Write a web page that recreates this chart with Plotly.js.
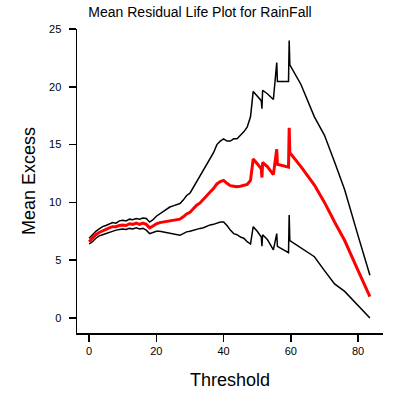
<!DOCTYPE html>
<html>
<head>
<meta charset="utf-8">
<script src="https://cdn.plot.ly/plotly-3.0.1.min.js"></script>
<style>html,body{margin:0;padding:0;background:#fff;}#chart{width:400px;height:399px;}</style>
</head>
<body>
<div id="chart"></div>
<script>
// Thresholds
var threshold = [0,1,2,3,4,5,6,7,8,9,10,11,12,13,14,15,16,17,18,19,20,21,22,23,24,25,26,27,28,29,30,31,32,33,34,35,36,37,38,39,40,41,42,43,44,45,46,47,48,48.8,50,51.2,51.4,51.6,53,54.8,55.8,56,59.3,59.5,59.7,63,67,70,73,76,80,83.5];
// Mean excess (red)
var meanExcess = [6.6,6.9,7.2,7.4,7.55,7.65,7.8,7.9,7.9,8.0,8.05,8.0,8.15,8.1,8.2,8.1,8.2,8.1,7.8,7.95,8.15,8.25,8.3,8.4,8.45,8.5,8.5,8.55,8.75,9.0,9.15,9.45,9.75,9.95,10.3,10.6,10.9,11.2,11.6,11.8,11.9,11.65,11.45,11.4,11.35,11.4,11.5,11.55,11.9,13.75,13.35,12.9,12.15,13.45,13.1,12.4,14.6,13.3,13.05,16.45,14.3,13.1,11.5,10.0,8.3,6.7,4.1,1.85];
// Upper confidence bound (black)
var upperCI = [6.9,7.2,7.5,7.7,7.9,8.0,8.15,8.25,8.2,8.4,8.45,8.4,8.55,8.5,8.6,8.55,8.65,8.6,8.3,8.5,8.8,9.0,9.2,9.4,9.6,9.7,9.8,9.9,10.2,10.6,10.8,11.3,11.8,12.2,12.8,13.3,13.8,14.3,15.0,15.3,15.5,15.3,15.3,15.5,15.5,15.8,16.1,16.5,17.4,19.6,19.2,18.8,18.1,19.7,19.4,18.9,22.1,20.45,20.45,24.0,21.9,20.2,17.4,15.8,13.5,11.1,7.1,3.7];
// Lower confidence bound (black)
var lowerCI = [6.4,6.6,6.9,7.1,7.2,7.3,7.45,7.55,7.6,7.65,7.7,7.65,7.75,7.7,7.8,7.7,7.75,7.6,7.3,7.4,7.5,7.5,7.45,7.4,7.3,7.25,7.2,7.15,7.3,7.45,7.5,7.6,7.7,7.75,7.8,7.95,8.05,8.1,8.2,8.3,8.3,8.0,7.6,7.3,7.2,7.0,6.9,6.6,6.4,7.9,7.5,7.0,6.2,7.2,6.8,5.9,7.3,6.2,5.65,8.9,6.7,6.05,5.3,4.1,2.95,2.3,1.1,0.0];

var xTicks = [0,20,40,60,80];
var yTicks = [0,5,10,15,20,25];

var traces = [
  {x: threshold, y: upperCI, type: 'scatter', mode: 'lines', line: {color: '#000000', width: 1.5}, hoverinfo: 'skip'},
  {x: threshold, y: lowerCI, type: 'scatter', mode: 'lines', line: {color: '#000000', width: 1.5}, hoverinfo: 'skip'},
  {x: threshold, y: meanExcess, type: 'scatter', mode: 'lines', line: {color: '#ff0000', width: 3}, hoverinfo: 'skip'}
];

var layout = {
  width: 400, height: 399,
  margin: {l: 77, r: 17, t: 29, b: 66},
  paper_bgcolor: '#ffffff', plot_bgcolor: '#ffffff',
  showlegend: false,
  font: {family: 'Liberation Sans, Arial, sans-serif', color: '#000000'},
  title: {
    text: 'Mean Residual Life Plot for RainFall',
    font: {size: 14, family: 'Liberation Sans, Arial, sans-serif', color: '#000'},
    xref: 'container', yref: 'container', x: 0.5, y: 1 - 12/399, xanchor: 'center', yanchor: 'middle'
  },
  xaxis: {
    range: [-3.6, 87.4], tickvals: xTicks, ticktext: xTicks.map(String),
    ticks: 'outside', ticklen: 7, tickwidth: 1.5, tickcolor: '#000',
    showline: true, linewidth: 1.5, linecolor: '#000', mirror: false,
    showgrid: false, zeroline: false,
    tickfont: {size: 11},
    title: {text: 'Threshold', font: {size: 18}, standoff: 17}
  },
  yaxis: {
    range: [-1.3, 25.0], tickvals: yTicks, ticktext: yTicks.map(String),
    ticks: 'outside', ticklen: 7, tickwidth: 1.5, tickcolor: '#000',
    showline: true, linewidth: 1.5, linecolor: '#000', mirror: false,
    showgrid: false, zeroline: false,
    tickfont: {size: 11}, ticklabelstandoff: 5,
    title: {text: 'Mean Excess', font: {size: 18}, standoff: 8}
  }
};

Plotly.newPlot('chart', traces, layout, {staticPlot: true, displayModeBar: false});
</script>
</body>
</html>
